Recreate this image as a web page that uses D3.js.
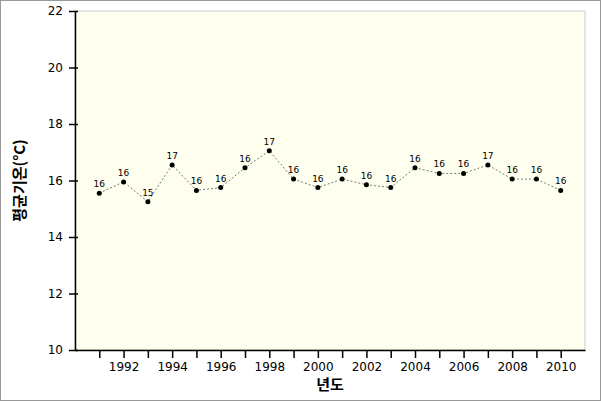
<!DOCTYPE html>
<html>
<head>
<meta charset="utf-8">
<script src="https://cdn.jsdelivr.net/npm/d3@7"></script>
<style>
  body { margin: 0; background: #fff; }
  text { font-family: "DejaVu Sans", sans-serif; }
</style>
</head>
<body>
<div id="chart"></div>
<script>
const years = [1991, 1992, 1993, 1994, 1995, 1996, 1997, 1998, 1999, 2000,
  2001, 2002, 2003, 2004, 2005, 2006, 2007, 2008, 2009, 2010];
const temps = [15.55, 15.95, 15.25, 16.55, 15.65, 15.75, 16.45, 17.05, 16.05, 15.75,
  16.05, 15.85, 15.75, 16.45, 16.25, 16.25, 16.55, 16.05, 16.05, 15.65];
const yTicks = [10, 12, 14, 16, 18, 20, 22];
const xLabelYears = [1992, 1994, 1996, 1998, 2000, 2002, 2004, 2006, 2008, 2010];

const W = 601, H = 401;
const margin = { top: 11, right: 16, bottom: 51, left: 75 };
const width = W - margin.left - margin.right;
const height = H - margin.top - margin.bottom;

const svg = d3.select("#chart").append("svg").attr("width", W).attr("height", H);

svg.append("rect")
  .attr("x", 0.5).attr("y", 0.5).attr("width", W - 1).attr("height", H - 1)
  .attr("fill", "#fff").attr("stroke", "#999");

const g = svg.append("g").attr("transform", `translate(${margin.left},${margin.top})`);

const x = d3.scaleLinear().domain([1990, 2011]).range([0, width]);
const y = d3.scaleLinear().domain([10, 22]).range([height, 0]);

g.append("rect").attr("width", width).attr("height", height)
  .attr("fill", "#ffffef").attr("stroke", "#ccc");

// y axis
const yAxis = g.append("g")
  .call(d3.axisLeft(y).tickValues(yTicks).tickSize(6).tickSizeOuter(0).tickPadding(6));
yAxis.selectAll(".tick line").attr("x2", 3).attr("x1", -6).attr("stroke", "#000").attr("stroke-width", 1.5);
yAxis.select(".domain").attr("stroke-width", 1.5);
yAxis.selectAll("text").attr("font-size", 12).attr("fill", "#000");

// x axis
const xAxis = g.append("g").attr("transform", `translate(0,${height})`)
  .call(d3.axisBottom(x).tickValues(years).tickSize(8).tickSizeOuter(0).tickPadding(4)
    .tickFormat(d => xLabelYears.includes(d) ? d : ""));
xAxis.selectAll(".tick line").attr("stroke-width", 1.5);
xAxis.select(".domain").attr("stroke-width", 1.5);
xAxis.selectAll("text").attr("font-size", 12).attr("fill", "#000");

const line = d3.line().x((d, i) => x(years[i])).y(d => y(d));
g.append("path").datum(temps)
  .attr("fill", "none").attr("stroke", "#555").attr("stroke-width", 0.8)
  .attr("stroke-dasharray", "2,2").attr("d", line);

g.selectAll(".dot").data(temps).enter().append("circle")
  .attr("cx", (d, i) => x(years[i])).attr("cy", d => y(d)).attr("r", 2.5).attr("fill", "#000");

g.selectAll(".lbl").data(temps).enter().append("text")
  .attr("x", (d, i) => x(years[i])).attr("y", d => y(d) - 6)
  .attr("text-anchor", "middle").attr("font-size", 9).attr("fill", "#000")
  .text(d => Math.round(d));

svg.append("text")
  .attr("transform", `translate(25,${margin.top + height / 2}) rotate(-90)`)
  .attr("text-anchor", "middle").attr("font-size", 15).attr("font-weight", "bold")
  .style("font-family", "'Noto Sans CJK KR', sans-serif")
  .text("평균기온(°C)");

svg.append("text")
  .attr("x", margin.left + width / 2).attr("y", 390)
  .attr("text-anchor", "middle").attr("font-size", 15).attr("font-weight", "bold")
  .style("font-family", "'Noto Sans CJK KR', sans-serif")
  .text("년도");
</script>
</body>
</html>
